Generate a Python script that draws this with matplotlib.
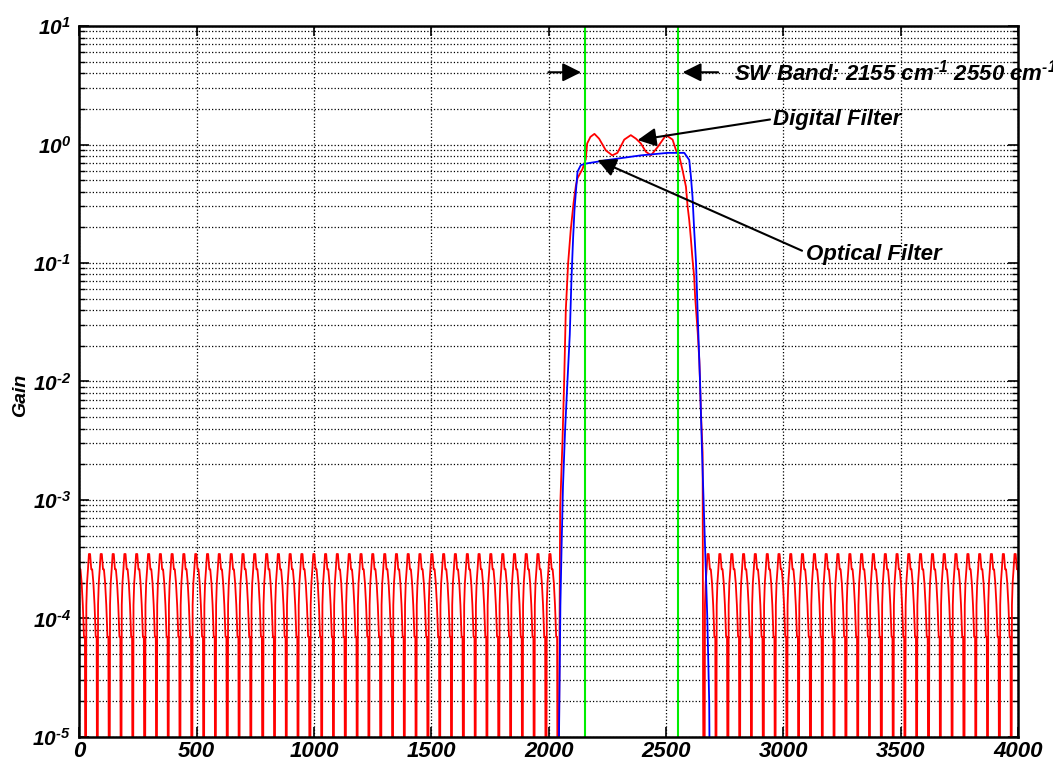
import numpy as np
import matplotlib.pyplot as plt
from matplotlib.ticker import FixedLocator, LogLocator, NullFormatter, FuncFormatter

# stop-band nulls of the digital filter (cm-1)
left_nulls = [-23, 27, 77, 128, 178, 228, 279, 329, 379, 429, 480, 530, 580, 631,
              681, 731, 782, 832, 882, 932, 983, 1033, 1083, 1134, 1184, 1234,
              1285, 1335, 1385, 1435, 1486, 1536, 1586, 1637, 1687, 1737, 1788,
              1838, 1888, 1938, 1989]
right_nulls = [2663, 2713, 2764, 2814, 2864, 2915, 2965, 3015, 3065, 3116, 3166,
               3216, 3267, 3317, 3367, 3418, 3468, 3518, 3568, 3619, 3669, 3719,
               3770, 3820, 3870, 3921, 3971]
# shape of one side lobe after a null (offset in cm-1, gain)
lobe_off = [0, 3, 6, 10, 14, 19, 24, 28, 33, 38, 43, 47]
lobe_val = [1e-7, 1.3e-4, 2.0e-4, 2.6e-4, 3.5e-4, 3.5e-4, 2.6e-4, 2.6e-4, 2.0e-4,
            1.3e-4, 7e-5, 7e-5]

# digital filter pass band
red_pass_x = [2039, 2049, 2059, 2066, 2073, 2083, 2094, 2106, 2116, 2123, 2144, 2158,
              2164, 2178, 2195, 2215, 2244, 2271, 2293, 2322, 2350, 2372, 2393,
              2414, 2436, 2464, 2500, 2528, 2543, 2557, 2571, 2585, 2592, 2599,
              2606, 2613, 2620, 2624, 2635, 2642, 2649, 2656, 2658]
red_pass_y = [1e-7, 8.5e-4, 3.2e-3, 1.0e-2, 4.0e-2, 0.10, 0.19, 0.32, 0.45, 0.52,
              0.62, 0.75, 1.02, 1.16, 1.23, 1.12, 0.89, 0.81, 0.85, 1.10, 1.20,
              1.12, 1.02, 0.87, 0.81, 0.95, 1.20, 1.10, 0.89, 0.79, 0.60, 0.44,
              0.30, 0.23, 0.16, 0.107, 0.076, 0.052, 0.026, 0.015, 5.4e-3, 2.5e-3,
              2.3e-5]

# optical filter
blue_x = [2030, 2044, 2050, 2055, 2061, 2070, 2080, 2090, 2097, 2104, 2110, 2116,
          2123, 2137, 2158, 2251, 2393, 2507, 2578, 2599, 2606, 2613, 2620, 2628,
          2636, 2645, 2652, 2660, 2668, 2676, 2684, 2692]
blue_y = [1e-7, 1e-5, 1.3e-4, 4.0e-4, 1.3e-3, 3.9e-3, 0.010, 0.025, 0.072, 0.16,
          0.28, 0.40, 0.59, 0.67, 0.69, 0.74, 0.81, 0.85, 0.85, 0.74, 0.54,
          0.36, 0.19, 0.10, 0.032, 0.010, 3.2e-3, 1.0e-3, 3.2e-4, 1.0e-4, 2.0e-5,
          1e-7]

band_edges = [2155, 2550]


def side_lobes(nulls):
    xs, ys = [], []
    for n in nulls:
        for o, v in zip(lobe_off, lobe_val):
            xs.append(n + o)
            ys.append(v)
    return xs, ys


def decade(v, p):
    e = int(round(np.log10(v)))
    if e < 0:
        return r'$\mathrm{10^{\text{-}%d}}$' % -e
    return r'$\mathrm{10^{%d}}$' % e


def main():
    plt.rcParams['font.family'] = ['Liberation Sans', 'DejaVu Sans']
    plt.rcParams['font.weight'] = 'bold'
    plt.rcParams['font.style'] = 'italic'
    plt.rcParams['mathtext.fontset'] = 'custom'
    plt.rcParams['mathtext.rm'] = 'Liberation Sans:bold:italic'
    plt.rcParams['mathtext.it'] = 'Liberation Sans:bold:italic'
    plt.rcParams['mathtext.bf'] = 'Liberation Sans:bold:italic'

    lx, ly = side_lobes(left_nulls)
    rx, ry = side_lobes(right_nulls)
    red_x = lx + red_pass_x + rx
    red_y = ly + red_pass_y + ry

    fig = plt.figure(figsize=(10.53, 7.70), dpi=100)
    ax = fig.add_axes([0.0753, 0.0429, 0.8915, 0.9233])

    ax.plot(red_x, red_y, color='#ff0000', lw=1.3)
    ax.plot(blue_x, blue_y, color='#0000ff', lw=1.3)
    for b in band_edges:
        ax.axvline(b, color='#00ee00', lw=1.5)

    ax.set_yscale('log')
    ax.set_xlim(0, 4000)
    ax.set_ylim(1e-5, 1e1)
    ax.xaxis.set_major_locator(FixedLocator(np.arange(0, 4001, 500)))
    ax.yaxis.set_major_locator(LogLocator(base=10, numticks=10))
    ax.yaxis.set_minor_locator(LogLocator(base=10, subs=np.arange(2, 10), numticks=20))
    ax.yaxis.set_minor_formatter(NullFormatter())
    ax.yaxis.set_major_formatter(FuncFormatter(decade))
    ax.xaxis.set_major_formatter(FuncFormatter(lambda v, p: '%d' % v))

    ax.grid(True, which='major', axis='both', color='black', ls=':', lw=0.9)
    ax.grid(True, which='minor', axis='y', color='black', ls=':', lw=0.9)
    ax.tick_params(which='both', direction='in', top=True, right=True)
    ax.tick_params(which='major', length=7, width=1.2)
    ax.tick_params(axis='x', which='major', pad=3, labelsize=16)
    ax.tick_params(axis='y', which='major', pad=6, labelsize=15)
    ax.tick_params(which='minor', length=4, width=1)
    for s in ax.spines.values():
        s.set_linewidth(1.8)

    ax.set_ylabel('Gain', fontsize=14, fontweight='bold')
    ax.yaxis.set_label_coords(-0.053, 0.48)

    ax.annotate('', xy=(2150, 4.07), xytext=(1987, 4.07),
                arrowprops=dict(arrowstyle='-|>', mutation_scale=28, color='black', lw=1.5))
    ax.annotate('', xy=(2559, 4.07), xytext=(2734, 4.07),
                arrowprops=dict(arrowstyle='-|>', mutation_scale=28, color='black', lw=1.5))
    ax.text(2790, 4.07, r'SW Band: 2155 cm$^{\text{-}1}$ 2550 cm$^{\text{-}1}$', fontsize=16,
            va='center', ha='left', clip_on=False)

    ax.annotate('Digital Filter', xy=(2379, 1.09), xytext=(2955, 1.64),
                fontsize=16, va='center', ha='left',
                arrowprops=dict(arrowstyle='-|>', mutation_scale=28, color='black',
                                lw=1.5, shrinkA=0, shrinkB=0, relpos=(0, 0.5)))
    ax.annotate('Optical Filter', xy=(2208, 0.74), xytext=(3097, 0.117),
                fontsize=16, va='center', ha='left',
                arrowprops=dict(arrowstyle='-|>', mutation_scale=28, color='black',
                                lw=1.5, shrinkA=0, shrinkB=0, relpos=(-0.03, 0.7)))

    fig.savefig('out.png', dpi=100)


if __name__ == "__main__":
    main()
